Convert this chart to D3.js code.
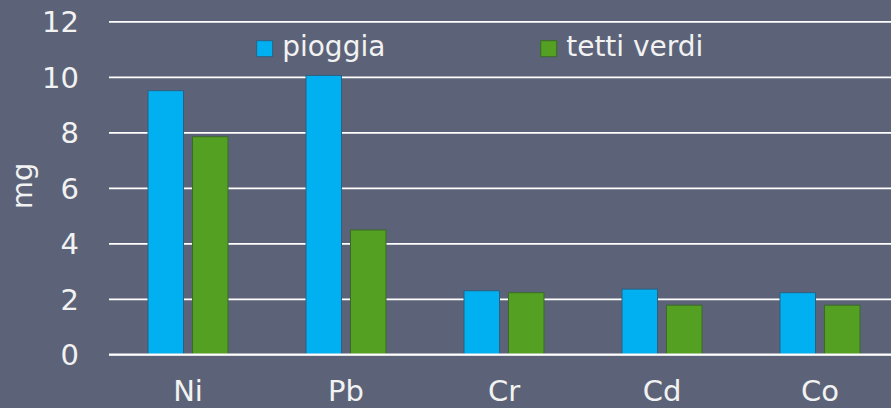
<!DOCTYPE html>
<html><head><meta charset="utf-8">
<script src="https://cdn.jsdelivr.net/npm/d3@7"></script>
<style>html,body{margin:0;padding:0;background:#5c6378;}svg{display:block;}</style>
</head><body>
<svg id="c" width="891" height="408"></svg>
<script>
const categories = ["Ni", "Pb", "Cr", "Cd", "Co"];
const seriesNames = ["pioggia", "tetti verdi"];
const pioggia = [9.5, 10.05, 2.29, 2.35, 2.22];
const tettiVerdi = [7.84, 4.48, 2.22, 1.77, 1.77];
const yTicks = [0, 2, 4, 6, 8, 10, 12];
const colors = ["#00b0f0", "#53a022"];
const strokes = ["#2f5f80", "#3b6a2a"];

const W = 891, H = 408;
const svg = d3.select("#c");
svg.append("rect").attr("width", W).attr("height", H).attr("fill", "#5c6378");

const x = d3.scaleBand().domain(categories).range([109, 899]).paddingInner(1 - 80/158).paddingOuter((1 - 80/158)/2);
const xs = d3.scaleBand().domain(seriesNames).range([0, x.bandwidth()]).paddingInner(0.2022).paddingOuter(0);
const y = d3.scaleLinear().domain([0, 12]).range([354.3, 21.3]);

const font = "'DejaVu Sans', Verdana, sans-serif";
const txt = "#f2f2f2";

// gridlines
const gAxis = svg.append("g").attr("transform", "translate(109,0)")
  .call(d3.axisLeft(y).tickValues(yTicks).tickSize(-(W - 109)).tickFormat(d3.format("d")).tickPadding(30));
gAxis.select(".domain").remove();
gAxis.selectAll(".tick line").attr("stroke", "#ffffff").attr("stroke-width", 1.8);
gAxis.selectAll(".tick text").attr("fill", txt).attr("font-family", font).attr("font-size", 29).attr("dy", "0.36em");

// bars
const data = [pioggia, tettiVerdi];
data.forEach((vals, si) => {
  svg.append("g").selectAll("rect").data(categories).join("rect")
    .attr("x", (c) => x(c) + xs(seriesNames[si]))
    .attr("y", (c, i) => y(vals[i]))
    .attr("width", xs.bandwidth())
    .attr("height", (c, i) => y(0) - y(vals[i]))
    .attr("fill", colors[si])
    .attr("stroke", strokes[si])
    .attr("stroke-width", 1);
});

// zero line on top
svg.append("line").attr("x1", 109).attr("x2", W).attr("y1", y(0)).attr("y2", y(0))
  .attr("stroke", "#ffffff").attr("stroke-width", 1.8);

// x labels
const gx = svg.append("g").attr("transform", `translate(0,${y(0)})`)
  .call(d3.axisBottom(x).tickSize(0).tickPadding(0));
gx.select(".domain").remove();
gx.selectAll(".tick text").attr("fill", txt).attr("font-family", font).attr("font-size", 29)
  .attr("dy", null).attr("y", 46.5);

// y title
svg.append("text").attr("transform", "translate(32,186) rotate(-90)")
  .attr("text-anchor", "middle").attr("fill", txt).attr("font-family", font).attr("font-size", 29).text("mg");

// legend
const legX = [256.7, 540.7];
seriesNames.forEach((s, i) => {
  svg.append("rect").attr("x", legX[i]).attr("y", 40.7).attr("width", 16).attr("height", 16)
    .attr("fill", colors[i]).attr("stroke", strokes[i]).attr("stroke-width", 1);
  svg.append("text").attr("x", legX[i] + 25.5).attr("y", 56).attr("fill", txt)
    .attr("font-family", font).attr("font-size", 28).text(s);
});
</script>
</body></html>
